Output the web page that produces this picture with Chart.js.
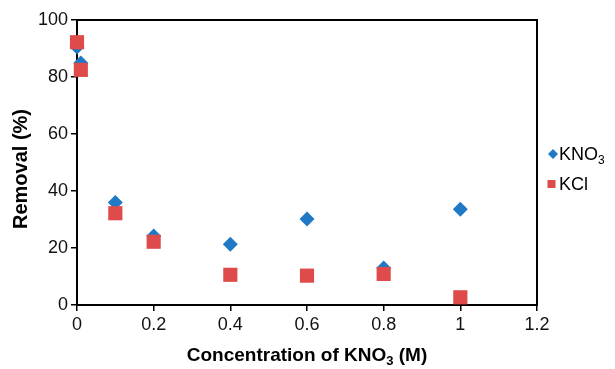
<!DOCTYPE html>
<html>
<head>
<meta charset="utf-8">
<script src="https://cdn.jsdelivr.net/npm/chart.js@4/dist/chart.umd.min.js"></script>
<style>
  html, body { margin: 0; padding: 0; background: #ffffff; }
  #wrap { width: 615px; height: 369px; position: relative; }
</style>
</head>
<body>
<div id="wrap"><canvas id="c" width="615" height="369"></canvas></div>
<script>
// ---- data ----
const concentration = [0, 0.01, 0.1, 0.2, 0.4, 0.6, 0.8, 1];
const removalKNO3 = [90.5, 84.9, 36.0, 24.2, 21.3, 30.2, 13.0, 33.6];
const removalKCl  = [92.2, 82.5, 32.2, 22.2, 10.6, 10.3, 10.9, 2.7];
const seriesNames = ['KNO3', 'KCl'];
const xTickValues = [0, 0.2, 0.4, 0.6, 0.8, 1, 1.2];
const yTickValues = [0, 20, 40, 60, 80, 100];
const xTitleParts = [['Concentration of KNO', false], ['3', true], [' (M)', false]];
const yTitle = 'Removal (%)';

const BLUE = '#2079C4';
const RED = '#DE4B4A';
const FONT = '"Liberation Sans", Arial, sans-serif';

function toPoints(xs, ys) { return xs.map((x, i) => ({ x: x, y: ys[i] })); }

function drawParts(ctx, parts, x, y, size, bold, align) {
  const w = parts.map(([t, sub]) => {
    ctx.font = (bold ? 'bold ' : '') + (sub ? Math.round(size * 0.68) : size) + 'px ' + FONT;
    return ctx.measureText(t).width;
  });
  const total = w.reduce((a, b) => a + b, 0);
  let cx = align === 'center' ? x - total / 2 : x;
  parts.forEach(([t, sub], i) => {
    ctx.font = (bold ? 'bold ' : '') + (sub ? Math.round(size * 0.68) : size) + 'px ' + FONT;
    ctx.fillText(t, cx, sub ? y + size * 0.3 : y);
    cx += w[i];
  });
}

const framePlugin = {
  id: 'frame',
  beforeDatasetsDraw(chart) {
    const { ctx, chartArea: a } = chart;
    ctx.save();
    ctx.strokeStyle = '#000';
    ctx.lineWidth = 2;
    ctx.strokeRect(a.left, a.top, a.right - a.left, a.bottom - a.top);
    ctx.restore();
  },
  afterDraw(chart) {
    const { ctx, chartArea: a } = chart;
    ctx.save();
    ctx.fillStyle = '#000';
    ctx.textBaseline = 'middle';
    ctx.textAlign = 'left';
    // x title
    drawParts(ctx, xTitleParts, (a.left + a.right) / 2, 356, 19, true, 'center');
    // y title
    ctx.save();
    ctx.translate(21, 169);
    ctx.rotate(-Math.PI / 2);
    ctx.font = 'bold 20px ' + FONT;
    ctx.textAlign = 'center';
    ctx.fillText(yTitle, 0, 0);
    ctx.restore();
    // legend
    const lx = 553, ly1 = 154, ly2 = 184;
    ctx.fillStyle = BLUE;
    ctx.beginPath();
    ctx.moveTo(lx - 5, ly1); ctx.lineTo(lx, ly1 - 5); ctx.lineTo(lx + 5, ly1); ctx.lineTo(lx, ly1 + 5);
    ctx.closePath(); ctx.fill();
    ctx.fillStyle = RED;
    ctx.fillRect(lx - 5.5, ly2 - 4, 8, 8);
    ctx.fillStyle = '#000';
    ctx.textAlign = 'left';
    drawParts(ctx, [['KNO', false], ['3', true]], 559, ly1 + 1, 18, false, 'left');
    drawParts(ctx, [[seriesNames[1], false]], 559, ly2 + 1, 18, false, 'left');
    ctx.restore();
  }
};

new Chart(document.getElementById('c'), {
  type: 'scatter',
  data: {
    datasets: [
      {
        label: seriesNames[0],
        data: toPoints(concentration, removalKNO3),
        pointStyle: 'rectRot',
        pointRadius: 7.5,
        pointHoverRadius: 7.5,
        backgroundColor: BLUE,
        borderWidth: 0,
        order: 1,
        clip: false
      },
      {
        label: seriesNames[1],
        data: toPoints(concentration, removalKCl),
        pointStyle: 'rect',
        pointRadius: 10,
        pointHoverRadius: 10,
        backgroundColor: RED,
        borderWidth: 0,
        order: 0,
        clip: false
      }
    ]
  },
  options: {
    responsive: false,
    animation: false,
    events: [],
    layout: { padding: { left: 0, top: 20, right: 78, bottom: 0 } },
    plugins: { legend: { display: false }, tooltip: { enabled: false } },
    scales: {
      x: {
        type: 'linear',
        min: 0, max: 1.2,
        afterFit(s) { s.height = 64; },
        afterBuildTicks(s) { s.ticks = xTickValues.map(v => ({ value: v })); },
        ticks: {
          color: '#111',
          font: { family: FONT, size: 18 },
          padding: 3,
          callback: v => String(Math.round(v * 10) / 10)
        },
        grid: { drawOnChartArea: false, drawTicks: true, tickLength: 6, color: '#000', lineWidth: 1.5 },
        border: { display: true, color: '#000', width: 2 }
      },
      y: {
        type: 'linear',
        min: 0, max: 100,
        afterFit(s) { s.width = 77; },
        afterBuildTicks(s) { s.ticks = yTickValues.map(v => ({ value: v })); },
        ticks: {
          color: '#111',
          font: { family: FONT, size: 18 },
          padding: 3
        },
        grid: { drawOnChartArea: false, drawTicks: true, tickLength: 6, color: '#000', lineWidth: 1.5 },
        border: { display: true, color: '#000', width: 2 }
      }
    }
  },
  plugins: [framePlugin]
});
</script>
</body>
</html>
